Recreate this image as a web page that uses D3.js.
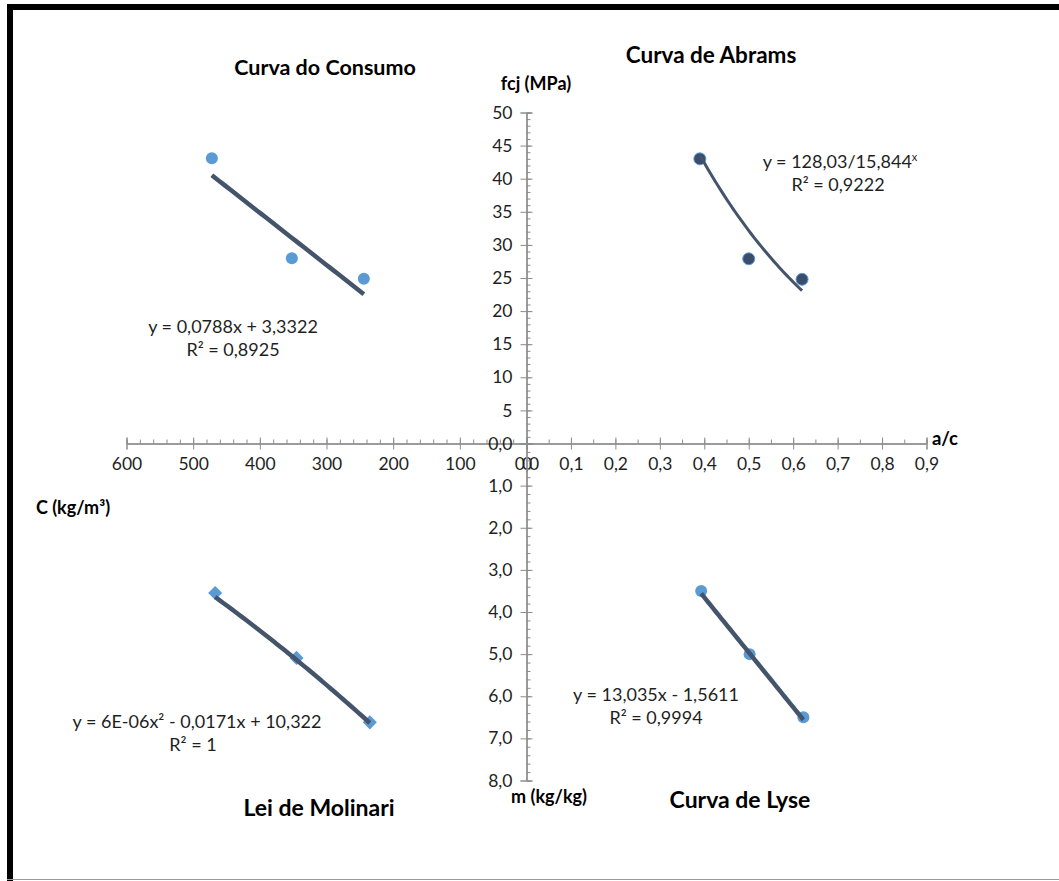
<!DOCTYPE html>
<html>
<head>
<meta charset="utf-8">
<script src="https://cdn.jsdelivr.net/npm/d3@7"></script>
<style>
  html, body { margin: 0; padding: 0; background: #fff; }
  svg { display: block; font-family: Lato, "Liberation Sans", sans-serif; }
  .tick text { fill: #1f1f1f; }
</style>
</head>
<body>
<svg id="chart" width="1059" height="881"></svg>
<script>
// ---- Data: concrete dosage diagram (four quadrants) ----
// Abrams curve: water/cement ratio vs. compressive strength
const abramsAC = [0.39, 0.50, 0.62];
const abramsFcj = [43.0, 27.9, 24.8];
// Consumption curve: cement content vs. compressive strength
const consumoC = [472, 352, 244];
const consumoFcj = [43.1, 28.0, 24.9];
// Molinari law: cement content vs. aggregate/cement ratio
const molinariC = [467, 345, 235];
const molinariM = [3.55, 5.09, 6.62];
// Lyse curve: water/cement ratio vs. aggregate/cement ratio
const lyseAC = [0.393, 0.502, 0.623];
const lyseM = [3.5, 5.0, 6.5];

// Trendline equations as printed on the chart
const abramsA = 128.03, abramsB = 15.844;
const consumoSlope = 0.0788, consumoIntercept = 3.3322;
const molinariQ = [6e-6, -0.0171, 10.322];
const lyseSlope = 13.035, lyseIntercept = -1.5611;

// Axis ticks
const acTicks = [0, 0.1, 0.2, 0.3, 0.4, 0.5, 0.6, 0.7, 0.8, 0.9];
const cTicks = [0, 100, 200, 300, 400, 500, 600];
const fcjTicks = [5, 10, 15, 20, 25, 30, 35, 40, 45, 50];
const mTicks = [0, 1, 2, 3, 4, 5, 6, 7, 8];

const svg = d3.select("#chart");
const fmt1 = d => d3.format(".1f")(d).replace(".", ",");

// ---- Frame ----
svg.append("line").attr("x1", 7).attr("x2", 1059).attr("y1", 7).attr("y2", 7)
  .attr("stroke", "#000").attr("stroke-width", 6);
svg.append("line").attr("x1", 10).attr("x2", 10).attr("y1", 4).attr("y2", 881)
  .attr("stroke", "#000").attr("stroke-width", 6);
svg.append("line").attr("x1", 7).attr("x2", 1059).attr("y1", 879.5).attr("y2", 879.5)
  .attr("stroke", "#9a9a9a").attr("stroke-width", 1);

// ---- Scales (shared origin) ----
const ox = 526.5, oy = 443.5;
const xAC = d3.scaleLinear().domain([0, 0.9]).range([ox, ox + 400]);
const xC = d3.scaleLinear().domain([0, 600]).range([ox, ox - 400]);
const yF = d3.scaleLinear().domain([0, 50]).range([oy, oy - 331]);
const yM = d3.scaleLinear().domain([0, 8]).range([oy, oy + 337]);

const axisColor = "#8c8c8c";
const labelSize = "17.5px";

function styleAxis(g) {
  g.select(".domain").attr("stroke", axisColor);
  g.selectAll(".tick line").attr("stroke", axisColor);
  g.selectAll(".tick text").attr("font-size", labelSize).attr("font-family", "Lato, sans-serif");
}

// Horizontal axis, right half (a/c)
const acMinor = d3.range(0, 0.9001, 0.05);
svg.append("g").attr("transform", `translate(0,${oy})`)
  .call(d3.axisTop(xAC).tickValues(acMinor).tickSize(4).tickFormat(""))
  .call(styleAxis);
svg.append("g").attr("transform", `translate(0,${oy})`)
  .call(d3.axisBottom(xAC).tickValues(acTicks).tickSize(6).tickPadding(8).tickFormat(fmt1))
  .call(styleAxis);
svg.append("g").attr("transform", `translate(0,${oy})`)
  .call(d3.axisTop(xAC).tickValues(acTicks).tickSize(6).tickFormat(""))
  .call(styleAxis);

// Horizontal axis, left half (C)
const cMinor = d3.range(0, 601, 20);
svg.append("g").attr("transform", `translate(0,${oy})`)
  .call(d3.axisTop(xC).tickValues(cMinor).tickSize(4).tickFormat(""))
  .call(styleAxis);
svg.append("g").attr("transform", `translate(0,${oy})`)
  .call(d3.axisBottom(xC).tickValues(cTicks).tickSize(6).tickPadding(8).tickFormat(d3.format("d")))
  .call(styleAxis);
svg.append("g").attr("transform", `translate(0,${oy})`)
  .call(d3.axisTop(xC).tickValues(cTicks).tickSize(6).tickFormat(""))
  .call(styleAxis);

// Vertical axis, upper half (fcj)
const fMinor = d3.range(0, 50.01, 1);
svg.append("g").attr("transform", `translate(${ox},0)`)
  .call(d3.axisRight(yF).tickValues(fMinor).tickSize(4).tickFormat(""))
  .call(styleAxis);
svg.append("g").attr("transform", `translate(${ox},0)`)
  .call(d3.axisLeft(yF).tickValues(fcjTicks).tickSize(6).tickPadding(8).tickFormat(d3.format("d")))
  .call(styleAxis);
svg.append("g").attr("transform", `translate(${ox},0)`)
  .call(d3.axisRight(yF).tickValues(fcjTicks).tickSize(6).tickFormat(""))
  .call(styleAxis);

// Vertical axis, lower half (m)
const mMinor = d3.range(0, 8.001, 0.2);
svg.append("g").attr("transform", `translate(${ox},0)`)
  .call(d3.axisRight(yM).tickValues(mMinor).tickSize(4).tickFormat(""))
  .call(styleAxis);
svg.append("g").attr("transform", `translate(${ox},0)`)
  .call(d3.axisLeft(yM).tickValues(mTicks).tickSize(6).tickPadding(8).tickFormat(fmt1))
  .call(styleAxis);
svg.append("g").attr("transform", `translate(${ox},0)`)
  .call(d3.axisRight(yM).tickValues(mTicks).tickSize(6).tickFormat(""))
  .call(styleAxis);

// ---- Markers ----
const lightBlue = "#5b9bd5", slate = "#44546a";

svg.append("g").selectAll("circle").data(consumoC.map((c, i) => [c, consumoFcj[i]]))
  .join("circle").attr("cx", d => xC(d[0])).attr("cy", d => yF(d[1])).attr("r", 6)
  .attr("fill", lightBlue);

svg.append("g").selectAll("circle").data(abramsAC.map((a, i) => [a, abramsFcj[i]]))
  .join("circle").attr("cx", d => xAC(d[0])).attr("cy", d => yF(d[1])).attr("r", 6)
  .attr("fill", "#3b4d6c").attr("stroke", lightBlue).attr("stroke-width", 1);

svg.append("g").selectAll("path").data(molinariC.map((c, i) => [c, molinariM[i]]))
  .join("path").attr("d", d3.symbol(d3.symbolSquare, 100))
  .attr("transform", d => `translate(${xC(d[0])},${yM(d[1])}) rotate(45)`)
  .attr("fill", lightBlue);

svg.append("g").selectAll("circle").data(lyseAC.map((a, i) => [a, lyseM[i]]))
  .join("circle").attr("cx", d => xAC(d[0])).attr("cy", d => yM(d[1])).attr("r", 6)
  .attr("fill", lightBlue);

// ---- Trendlines (from the printed equations, over each data range) ----
function trend(fn, lo, hi, xs, ys, width) {
  const pts = d3.range(0, 41).map(i => { const x = lo + (hi - lo) * i / 40; return [x, fn(x)]; });
  svg.append("path").datum(pts)
    .attr("d", d3.line().x(d => xs(d[0])).y(d => ys(d[1])))
    .attr("fill", "none").attr("stroke", slate).attr("stroke-width", width)
    .attr("stroke-linecap", "butt");
}
trend(x => abramsA / Math.pow(abramsB, x), d3.min(abramsAC), d3.max(abramsAC), xAC, yF, 3);
trend(x => consumoSlope * x + consumoIntercept, d3.min(consumoC), d3.max(consumoC), xC, yF, 4.5);
trend(x => molinariQ[0] * x * x + molinariQ[1] * x + molinariQ[2], d3.min(molinariC), d3.max(molinariC), xC, yM, 4.5);
trend(x => lyseSlope * x + lyseIntercept, d3.min(lyseAC), d3.max(lyseAC), xAC, yM, 4.5);

// ---- Text ----
function text(x, y, str, opts = {}) {
  const t = svg.append("text").attr("x", x).attr("y", y)
    .attr("text-anchor", opts.anchor || "middle")
    .attr("font-size", opts.size || labelSize)
    .attr("fill", opts.fill || "#1f1f1f");
  if (opts.bold) t.attr("font-weight", 700).attr("fill", "#000");
  return t.text(str);
}

// Quadrant titles
text(325, 75, "Curva do Consumo", { bold: true, size: "21.5px" });
text(711, 63, "Curva de Abrams", { bold: true, size: "22.5px" });
text(319, 816, "Lei de Molinari", { bold: true, size: "23px" });
text(740, 808, "Curva de Lyse", { bold: true, size: "23px" });

// Axis titles
text(536, 90, "fcj (MPa)", { bold: true, size: "18px" });
text(945, 445, "a/c", { bold: true, size: "18.5px" });
text(73, 514, "C (kg/m³)", { bold: true, size: "18px" });
text(549, 803, "m (kg/kg)", { bold: true, size: "18px" });

// Trendline equations
text(233, 333, "y = 0,0788x + 3,3322", { size: "18px" });
text(233, 356, "R² = 0,8925", { size: "18px" });
const abEq = text(840, 168, "y = 128,03/15,844", { size: "18px" });
abEq.append("tspan").attr("dy", -7).attr("font-size", "11px").text("x");
text(838, 191, "R² = 0,9222", { size: "18px" });
text(197, 728, "y = 6E-06x² - 0,0171x + 10,322", { size: "18px" });
text(193, 751, "R² = 1", { size: "18px" });
text(656, 701, "y = 13,035x - 1,5611", { size: "18px" });
text(656, 724, "R² = 0,9994", { size: "18px" });
</script>
</body>
</html>
